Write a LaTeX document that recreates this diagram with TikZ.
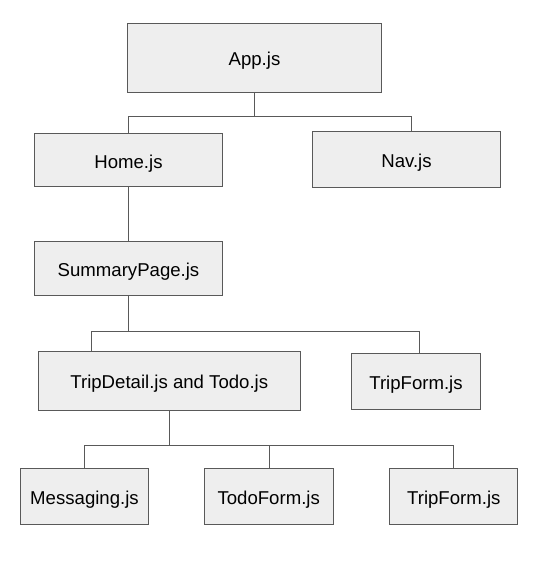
\documentclass[tikz,border=0pt]{standalone}
\usepackage{fontspec}
\setmainfont{Liberation Sans}
\definecolor{boxfill}{HTML}{EEEEEE}
\definecolor{edge}{HTML}{595959}
\begin{document}
\begin{tikzpicture}[x=1pt,y=-1pt,
  box/.style={draw=edge, fill=boxfill, line width=1pt, rectangle, inner sep=0pt,
    text height=20pt, text depth=4pt,
    font=\fontsize{18.6}{22}\selectfont, text=black},
  link/.style={draw=edge, line width=1pt}]
\useasboundingbox (0,0) rectangle (536,563);
\node[box, minimum width=254.5pt, minimum height=69pt] (App) at (254.5,57.8) {App.js};
\node[box, minimum width=188.4pt, minimum height=53.4pt] (Home) at (128.5,160) {Home.js};
\node[box, minimum width=188.4pt, minimum height=55.6pt] (Nav) at (406.5,159.5) {Nav.js};
\node[box, minimum width=188pt, minimum height=54.3pt] (Summary) at (128.5,268.8) {SummaryPage.js};
\node[box, minimum width=262pt, minimum height=59pt] (TripDetail) at (169.3,380.8) {TripDetail.js and Todo.js};
\node[box, minimum width=129.4pt, minimum height=56pt] (TripFormA) at (416,381.3) {TripForm.js};
\node[box, minimum width=128.4pt, minimum height=56pt] (Messaging) at (84.5,496.3) {Messaging.js};
\node[box, minimum width=128.7pt, minimum height=56pt] (TodoForm) at (268.7,496.3) {TodoForm.js};
\node[box, minimum width=128.3pt, minimum height=56pt] (TripFormB) at (453.8,496.3) {TripForm.js};
\coordinate (a1) at (128.7,116.7);
\coordinate (a2) at (411.3,116.7);
\coordinate (b1) at (91,331);
\coordinate (b2) at (419.3,331);
\coordinate (c1) at (84,445);
\coordinate (c2) at (453.3,445);
\coordinate (c3) at (269.3,445);
\draw[link] (App.south) -- (App.south |- a1);
\draw[link] (Home.north -| a1) -- (a1) -- (a2) -- (Nav.north -| a2);
\draw[link] (Home.south) -- (Home.south |- Summary.north);
\draw[link] (Summary.south) -- (Summary.south |- b1);
\draw[link] (TripDetail.north -| b1) -- (b1) -- (b2) -- (TripFormA.north -| b2);
\draw[link] (TripDetail.south) -- (TripDetail.south |- c1);
\draw[link] (Messaging.north -| c1) -- (c1) -- (c2) -- (TripFormB.north -| c2);
\draw[link] (c3) -- (TodoForm.north -| c3);
\end{tikzpicture}
\end{document}
